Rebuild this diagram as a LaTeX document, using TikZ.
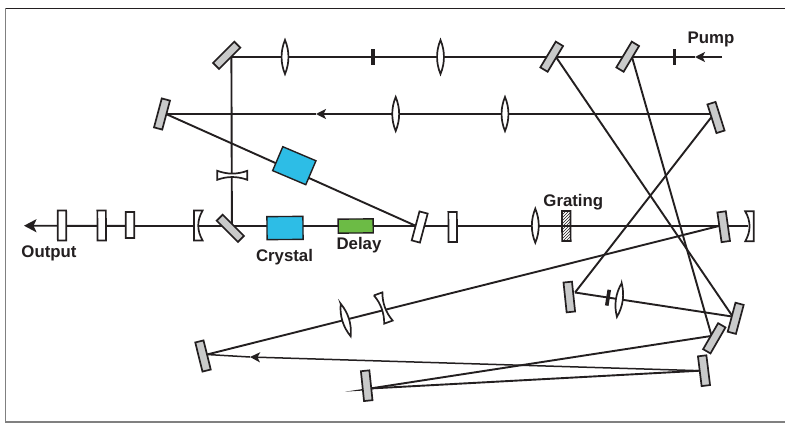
\documentclass[tikz,border=0pt]{standalone}
\usepackage{fontspec}
\setmainfont{Liberation Sans}
\usetikzlibrary{arrows.meta,patterns}
\definecolor{ink}{HTML}{231F20}
\definecolor{mirrorgray}{HTML}{C9CACA}
\definecolor{crystalblue}{HTML}{2DBDE6}
\definecolor{delaygreen}{HTML}{6CBB45}
\tikzset{
  beam/.style={draw=ink,line width=1.9pt},
  tipped/.style={beam,-{Stealth[length=10pt,width=10pt,inset=2.5pt]}},
  bigtipped/.style={beam,-{Stealth[length=12.5pt,width=13pt,inset=3pt]}},
  optic/.style={draw=ink,line width=1.7pt,inner sep=0pt,outer sep=0pt,minimum width=30pt,minimum height=8.5pt},
  mirror/.style={optic,fill=mirrorgray},
  plate/.style={optic,fill=white},
  iris/.style={fill=ink,inner sep=0pt,outer sep=0pt,minimum width=16pt,minimum height=3.6pt},
  label/.style={inner sep=0pt,text=ink,font=\fontsize{16.8}{20}\selectfont\bfseries},
  lens/.pic={\draw[draw=ink,fill=white,line width=1.7pt,miter limit=10]
     (0,-17) .. controls (4.6,-6) and (4.6,6) .. (0,17) .. controls (-4.6,6) and (-4.6,-6) .. cycle;},
  concave/.pic={\draw[draw=ink,fill=white,line width=1.7pt]
     (-4.5,-15) -- (4.5,-15) .. controls (0.8,-5) and (0.8,5) .. (4.5,15) -- (-4.5,15) .. controls (-0.8,5) and (-0.8,-5) .. cycle;},
  planoconcave/.pic={\draw[draw=ink,fill=white,line width=1.7pt]
     (-4.3,-15) -- (4.3,-15) .. controls (-1.5,-5) and (-1.5,5) .. (4.3,15) -- (-4.3,15) -- cycle;}
}
\begin{document}
\begin{tikzpicture}[x=1pt,y=-1pt]
\useasboundingbox (0,0) rectangle (785,423);
\fill[white] (0,0) rectangle (785,423);
% frame
\draw[draw=ink,line width=1pt] (5.5,8.3) -- (785,8.3);
\draw[draw=gray,line width=1.2pt] (5.8,8.3) -- (5.8,422) -- (785,422);

% beam end points
\coordinate (topL) at (231.4,57);
\coordinate (pumpIn) at (722,57);
\coordinate (pumpTip) at (695,57);
\coordinate (vertEnd) at (231.9,225.5);
\coordinate (midR) at (712,114);
\coordinate (midTip) at (316,114);
\coordinate (midL) at (166,114);
\coordinate (diagEnd) at (415,225.5);
\coordinate (axisR) at (748,226);
\coordinate (axisTip) at (24,225.7);
\coordinate (farR) at (719,226);
\coordinate (lowL) at (207,354.5);
\coordinate (retR) at (700,370.7);
\coordinate (retTip) at (250,357);
\coordinate (fanL) at (370,388.5);
\coordinate (fanUpR) at (711,336);
\coordinate (splitA) at (556,57);
\coordinate (splitB) at (632,57);
\coordinate (splitAend) at (732,315.5);
\coordinate (splitBend) at (711.5,335.5);
\coordinate (crossR) at (711.5,117);
\coordinate (crossL) at (575,292.5);
\coordinate (shortR) at (732,316.5);
\coordinate (outStart) at (150,226);
\coordinate (tailEnd) at (345,391.7);

% beams
\draw[beam] (topL) -- (vertEnd);
\draw[tipped] (pumpIn) -- (pumpTip);
\draw[beam] (pumpTip) -- (topL);
\draw[tipped] (midR) -- (midTip);
\draw[beam] (midTip) -- (midL);
\draw[beam] (midL) -- (diagEnd);
\draw[beam] (axisR) -- (outStart);
\draw[bigtipped] (outStart) -- (axisTip);
\draw[beam] (farR) -- (lowL);
\draw[tipped,line width=1.5pt] (retR) -- (retTip);
\draw[beam,line width=1.5pt] (retTip) -- (lowL);
\draw[beam] (retR) -- (fanL);
\draw[beam] (fanUpR) -- (fanL);
\draw[beam] (splitA) -- (splitAend);
\draw[beam] (splitB) -- (splitBend);
\draw[beam] (crossR) -- (crossL);
\draw[beam] (crossL) -- (shortR);
\fill[ink] (tailEnd) -- (372,387.6) -- (372,390) -- cycle;

% mirrors
\node[mirror,rotate=45] (m1) at (226.7,55.3) {};
\node[mirror,rotate=59] (m2) at (551.7,56.7) {};
\node[mirror,rotate=59] (m3) at (627.7,56.7) {};
\node[mirror,rotate=75] (m4) at (162,114) {};
\node[mirror,rotate=107.5] (m5) at (716,117.5) {};
\node[mirror,rotate=-45] (m6) at (230.3,228.3) {};
\node[mirror,rotate=98] (m7) at (723.7,226.7) {};
\node[mirror,rotate=104] (m8) at (203,356) {};
\node[mirror,rotate=96] (m9) at (366.7,385.7) {};
\node[mirror,rotate=97] (m10) at (704,370.7) {};
\node[mirror,rotate=96] (m11) at (569.3,297) {};
\node[mirror,rotate=75] (m12) at (735.7,318.3) {};
\node[mirror,rotate=60] (m13) at (714.3,338.3) {};

% plates
\node[plate,rotate=90.4] (p1) at (62,225.5) {};
\node[plate,rotate=90.4] (p2) at (101.7,225.5) {};
\node[plate,rotate=90.4,minimum width=26pt] (p3) at (130,225) {};
\node[plate,rotate=75] (p4) at (419.7,227) {};
\node[plate,rotate=90.4] (p5) at (452.7,227) {};
\node[optic,rotate=90.4,pattern=north east lines,pattern color=ink] (grating) at (566.3,226) {};

% crystals and delay
\node[draw=ink,fill=crystalblue,line width=1.4pt,inner sep=0pt,outer sep=0pt,minimum width=36pt,minimum height=23pt,rotate=0.4] (crystalA) at (285,228) {};
\node[draw=ink,fill=crystalblue,line width=1.4pt,inner sep=0pt,outer sep=0pt,minimum width=36pt,minimum height=26pt,rotate=-23] (crystalB) at (294.3,165.7) {};
\node[draw=ink,fill=delaygreen,line width=1.4pt,inner sep=0pt,outer sep=0pt,minimum width=35pt,minimum height=14pt,rotate=0.4] (delay) at (355.7,226) {};

% lenses
\pic (l1) at (285,57) {lens};
\pic (l2) at (440.5,57) {lens};
\pic (l3) at (395.7,114) {lens};
\pic (l4) at (505,114) {lens};
\pic (l5) at (535.3,225.7) {lens};
\pic[rotate=17] (l6) at (345.7,320) {lens};
\pic[rotate=-8] (l7) at (619.3,300) {lens};
\pic[rotate=90] (c1) at (232.3,175.3) {concave};
\pic[rotate=20] (c2) at (383.3,308) {concave};
\pic (pc1) at (198.3,225.5) {planoconcave};
\pic[rotate=180] (pc2) at (749.5,226.3) {planoconcave};

% irises
\node[iris,rotate=90] (i1) at (373,57) {};
\node[iris,rotate=90] (i2) at (674.3,57) {};
\node[iris,rotate=81] (i3) at (608,297.7) {};

% labels
\node[label] (pump) at (711,39.5) {Pump};
\node[label] (grat) at (573.3,202.5) {Grating};
\node[label] (output) at (49,253) {Output};
\node[label] (crystal) at (284.5,257) {Crystal};
\node[label] (delaytxt) at (359,245.5) {Delay};
\end{tikzpicture}
\end{document}
